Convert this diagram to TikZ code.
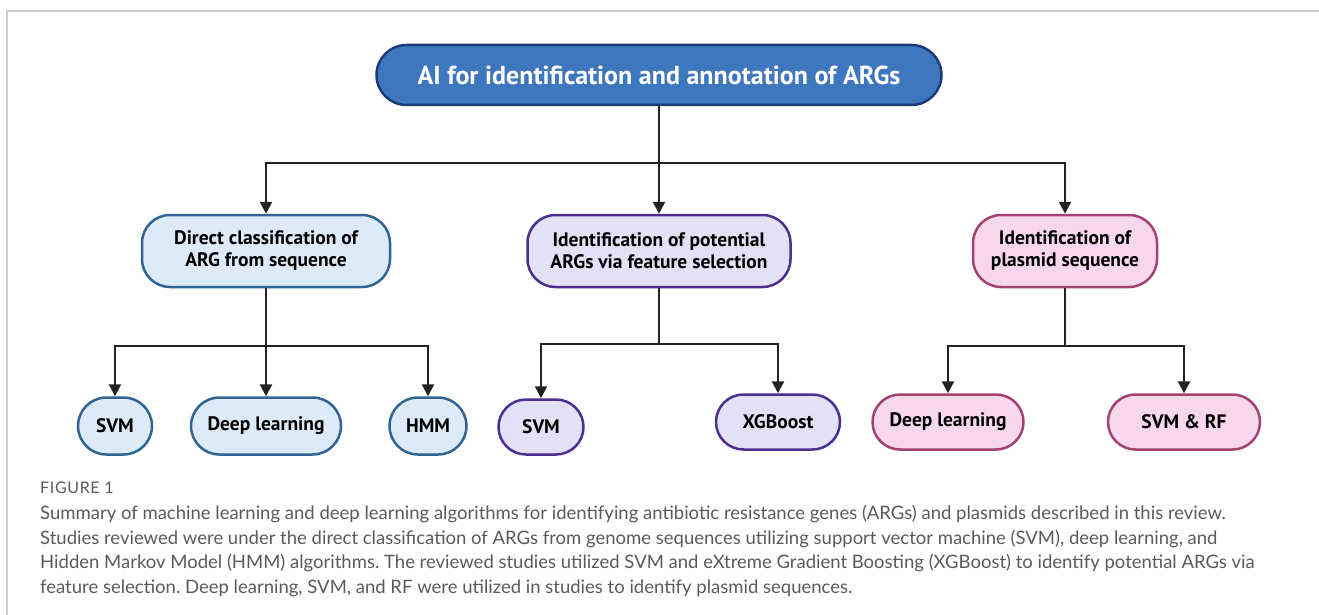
\documentclass[tikz,border=0pt]{standalone}
\usepackage{fontspec}
\setmainfont{Lato}
\newfontfamily\boxfont{PT Sans}
\usepackage{tikz}
\usetikzlibrary{arrows.meta}
\frenchspacing

\definecolor{topFill}{HTML}{3F77BF}
\definecolor{topLine}{HTML}{1C3C78}
\definecolor{blueFill}{HTML}{DDEBF8}
\definecolor{blueLine}{HTML}{2F6494}
\definecolor{purpleFill}{HTML}{E4E1F6}
\definecolor{purpleLine}{HTML}{4B2E90}
\definecolor{pinkFill}{HTML}{F6D7EC}
\definecolor{pinkLine}{HTML}{A24270}
\definecolor{linkGray}{HTML}{222222}
\definecolor{capGray}{HTML}{5A5A5A}
\definecolor{frameGray}{HTML}{CCCCCC}

\begin{document}
\begin{tikzpicture}[x=1pt,y=-1pt,
	pill/.style={rectangle,draw,line width=2.5pt,inner sep=0pt,align=center,
		font=\boxfont\bfseries\fontsize{19.5}{22}\selectfont},
	topBox/.style={pill,fill=topFill,draw=topLine,text=white,
		font=\boxfont\bfseries\fontsize{26}{30}\selectfont},
	blueBox/.style={pill,fill=blueFill,draw=blueLine},
	purpleBox/.style={pill,fill=purpleFill,draw=purpleLine},
	pinkBox/.style={pill,fill=pinkFill,draw=pinkLine},
	link/.style={draw=linkGray,line width=2.4pt,-{Triangle[length=12pt,width=12pt]}}]
	\useasboundingbox (0,0) rectangle (1319,615);
	\draw[frameGray,line width=1.5pt] (7,615) -- (7,11) -- (1319,11);

	\node[topBox,minimum width=565,minimum height=60,rounded corners=30] (aiTop) at (659,75) {AI for identification and annotation of ARGs};

	\node[blueBox,minimum width=248,minimum height=72,rounded corners=28] (direct) at (266,251) {Direct classification of\\ARG from sequence};
	\node[purpleBox,minimum width=263,minimum height=72,rounded corners=28] (feature) at (659,251) {Identification of potential\\ARGs via feature selection};
	\node[pinkBox,minimum width=184,minimum height=72,rounded corners=28] (plasmid) at (1065,251) {Identification of\\plasmid sequence};

	\node[blueBox,minimum width=74,minimum height=57,rounded corners=28.5] (svmA) at (115,426) {SVM};
	\node[blueBox,minimum width=150,minimum height=57,rounded corners=28.5] (deepA) at (266,426) {Deep learning};
	\node[blueBox,minimum width=77,minimum height=57,rounded corners=28.5] (hmmA) at (428,426) {HMM};
	\node[purpleBox,minimum width=85,minimum height=55,rounded corners=27.5] (svmB) at (541,427) {SVM};
	\node[purpleBox,minimum width=124,minimum height=55,rounded corners=27.5] (xgb) at (778,422) {XGBoost};
	\node[pinkBox,minimum width=151,minimum height=55,rounded corners=27.5] (deepC) at (948,422) {Deep learning};
	\node[pinkBox,minimum width=152,minimum height=55,rounded corners=27.5] (svmRf) at (1184,422) {SVM \& RF};

\draw[link](aiTop.south) -- ++(0,57) -| (direct.north);
\draw[link](aiTop.south) -- (feature.north);
\draw[link](aiTop.south) -- ++(0,57) -| (plasmid.north);

\draw[link](direct.south) -- ++(0,58) -| (svmA.north);
\draw[link](direct.south) -- (deepA.north);
\draw[link](direct.south) -- ++(0,58) -| (hmmA.north);

\draw[link](feature.south) -- ++(0,56) -| (svmB.north);
\draw[link](feature.south) -- ++(0,56) -| (xgb.north);

\draw[link](plasmid.south) -- ++(0,58) -| (deepC.north);
\draw[link](plasmid.south) -- ++(0,58) -| (svmRf.north);

	\node[anchor=west,inner sep=0pt,text=capGray,font=\addfontfeature{LetterSpace=4}\fontsize{16}{18}\selectfont] (figLabel) at (40,488) {FIGURE 1};
	\node[anchor=north west,inner sep=0pt,align=left,text=capGray,font=\fontsize{18.5}{24.7}\selectfont] (caption) at (40,505) {Summary of machine learning and deep learning algorithms for identifying antibiotic resistance genes (ARGs) and plasmids described in this review.\\Studies reviewed were under the direct classification of ARGs from genome sequences utilizing support vector machine (SVM), deep learning, and\\Hidden Markov Model (HMM) algorithms. The reviewed studies utilized SVM and eXtreme Gradient Boosting (XGBoost) to identify potential ARGs via\\feature selection. Deep learning, SVM, and RF were utilized in studies to identify plasmid sequences.};

\end{tikzpicture}
\end{document}
